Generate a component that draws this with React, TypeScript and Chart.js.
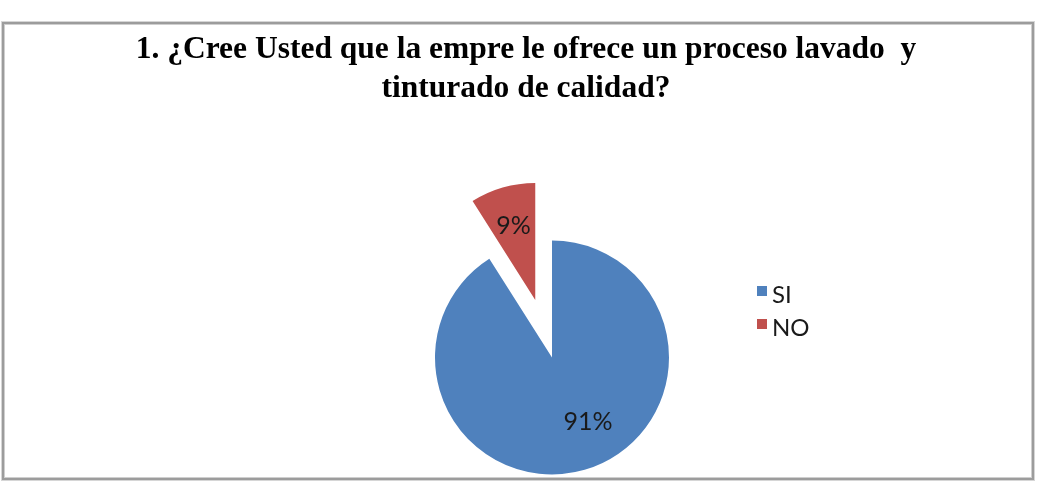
import React, { useEffect, useRef } from 'react';
import { Chart, registerables } from 'chart.js';

Chart.register(...registerables);

// ---- data ----
const categories = ['SI', 'NO'];
const values = [91, 9];
const sliceColors = ['#4F81BD', '#C0504D'];
const titleLines = [
  '1. ¿Cree Usted que la empre le ofrece un proceso lavado  y',
  'tinturado de calidad?',
];

const W = 1025;
const H = 451;

// moves exploded slices along their bisector
const explodePlugin = {
  id: 'explode',
  afterDatasetsUpdate(chart: any, _args: any, opts: any) {
    const meta = chart.getDatasetMeta(0);
    meta.data.forEach((arc: any, i: number) => {
      const d = (opts.distances && opts.distances[i]) || 0;
      if (!d) return;
      const mid = (arc.startAngle + arc.endAngle) / 2;
      arc.x += Math.cos(mid) * d;
      arc.y += Math.sin(mid) * d;
    });
  },
};

// title, percentage labels and legend
const overlayPlugin = {
  id: 'overlay',
  afterDraw(chart: any, _args: any, opts: any) {
    const ctx = chart.ctx;
    ctx.save();
    ctx.fillStyle = '#000';
    ctx.textAlign = 'center';
    ctx.textBaseline = 'alphabetic';
    ctx.font = `bold ${opts.titleSize}px "Liberation Serif", "Times New Roman", serif`;
    titleLines.forEach((t, i) => {
      ctx.fillText(t, opts.titleX, opts.titleY + i * opts.titleLineHeight);
    });

    const meta = chart.getDatasetMeta(0);
    const total = values.reduce((a, b) => a + b, 0);
    ctx.font = `${opts.labelSize}px Lato, "Open Sans", sans-serif`;
    ctx.fillStyle = '#1a1a1a';
    ctx.textBaseline = 'alphabetic';
    meta.data.forEach((arc: any, i: number) => {
      const p = opts.labelPlacement[i];
      const a = (arc.startAngle + arc.endAngle) / 2 + (p.shift * Math.PI) / 180;
      const r = arc.outerRadius * p.frac;
      const txt = Math.round((values[i] / total) * 100) + '%';
      ctx.fillText(txt, arc.x + Math.cos(a) * r, arc.y + Math.sin(a) * r + opts.labelBaselineShift);
    });

    // legend
    ctx.textAlign = 'left';
    ctx.font = `${opts.legendSize}px Lato, "Open Sans", sans-serif`;
    const bg = chart.data.datasets[0].backgroundColor;
    chart.data.labels.forEach((lab: string, i: number) => {
      const y = opts.legendY + i * opts.legendGap;
      ctx.fillStyle = bg[i];
      ctx.fillRect(opts.legendX, y, opts.legendBox, opts.legendBox);
      ctx.fillStyle = '#1a1a1a';
      ctx.fillText(lab, opts.legendX + opts.legendBox + 5, y + opts.legendTextShift);
    });
    ctx.restore();
  },
};

export default function App() {
  const ref = useRef<HTMLCanvasElement>(null);

  useEffect(() => {
    if (!ref.current) return;
    const chart = new Chart(ref.current, {
      type: 'pie',
      data: {
        labels: categories,
        datasets: [
          {
            data: values,
            backgroundColor: sliceColors,
            borderWidth: 0,
            clip: false as any,
          },
        ],
      },
      options: {
        responsive: false,
        animation: false,
        devicePixelRatio: 1,
        radius: 117,
        layout: { padding: { left: 200, right: 131, top: 214, bottom: 0 } },
        plugins: {
          legend: { display: false },
          title: { display: false },
          tooltip: { enabled: false },
          explode: { distances: [0, 60] },
          overlay: {
            titleSize: 31.5,
            titleX: 521,
            titleY: 33,
            titleLineHeight: 39,
            labelSize: 25,
            labelBaselineShift: 9,
            labelPlacement: [
              { shift: -13.4, frac: 0.624 },
              { shift: 0, frac: 0.668 },
            ],
            legendSize: 24,
            legendX: 752,
            legendY: 261,
            legendGap: 33,
            legendBox: 10,
            legendTextShift: 17,
          },
        } as any,
      },
      plugins: [explodePlugin, overlayPlugin],
    });
    return () => chart.destroy();
  }, []);

  return (
    <div
      style={{
        position: 'absolute',
        left: 0,
        top: 0,
        width: 1048,
        height: 482,
        overflow: 'hidden',
        background: '#fff',
      }}
    >
      <div
        style={{
          position: 'absolute',
          left: 2,
          top: 22,
          width: 1032,
          height: 458,
          boxSizing: 'border-box',
          border: '2px solid #9c9c9c',
          boxShadow: '0 0 0 1px #d6d6d6, inset 0 0 0 1px #cfcfcf',
        }}
      />
      <canvas
        ref={ref}
        width={W}
        height={H}
        style={{ position: 'absolute', left: 5, top: 25, width: W, height: H }}
      />
    </div>
  );
}
